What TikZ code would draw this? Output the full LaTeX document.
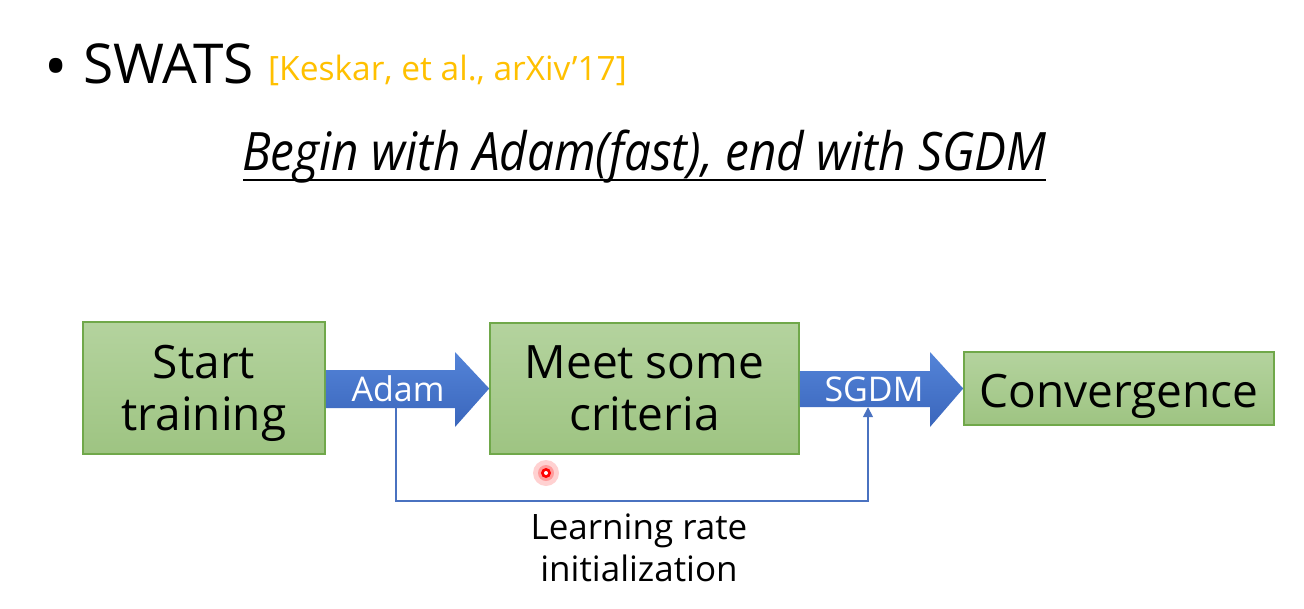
\documentclass[tikz,border=0pt]{standalone}
\usepackage{fontspec}
\setmainfont{Open Sans}
\usetikzlibrary{calc,arrows.meta}
\definecolor{boxtop}{RGB}{180,211,158}
\definecolor{boxbot}{RGB}{158,196,130}
\definecolor{boxline}{RGB}{112,168,74}
\definecolor{arrtop}{RGB}{84,132,216}
\definecolor{arrbot}{RGB}{58,102,188}
\definecolor{connblue}{RGB}{74,114,192}
\definecolor{citeorange}{RGB}{255,192,0}
\tikzset{
  greenbox/.style={draw=boxline, line width=1.6pt, top color=boxtop, bottom color=boxbot,
    inner sep=0pt},
  boxtext/.style={inner sep=0pt, align=center, anchor=base, font=\fontsize{46}{52}\selectfont},
  blockarrow/.style={top color=arrtop, bottom color=arrbot, draw=none},
  arrlabel/.style={text=white, inner sep=0pt, font=\fontsize{34}{40}\selectfont},
  conn/.style={draw=connblue, line width=1.5pt},
  plain/.style={inner sep=0pt, text=black},
}
\begin{document}
\begin{tikzpicture}[x=1pt,y=-1pt]
\useasboundingbox[fill=white] (0,0) rectangle (1304,608);
% heading
\node[plain, font=\fontsize{62}{64}\selectfont, anchor=center] (bullet) at (56,73) {\textbullet};
\node[plain, font=\fontsize{55}{60}\selectfont, anchor=base west] (swats) at (83,83) {SWATS};
\node[plain, text=citeorange, font=\fontsize{33.5}{40}\selectfont, anchor=base west] (cite) at (268,80) {[Keskar, et al., arXiv’17]};
% title
\node[plain, font=\fontsize{53}{60}\selectfont\itshape, anchor=base] (title) at (644.5,170) {\scalebox{0.90}[1]{Begin with Adam(fast), end with SGDM}};
\draw[line width=2.4pt] (243,180) -- (1046,180);
% boxes
\node[greenbox, minimum width=242pt, minimum height=132pt] (start) at (204,388) {};
\node[greenbox, minimum width=309pt, minimum height=131pt] (meet) at (644.5,388.5) {};
\node[greenbox, minimum width=310pt, minimum height=73pt] (conv) at (1119,388.5) {};
\node[boxtext] (starttxt) at (204,430) {Start\\training};
\node[boxtext] (meettxt) at (644.5,430) {Meet some\\criteria};
\node[boxtext] (convtxt) at (1119,407) {Convergence};
% block arrows
\shade[blockarrow] (start.east |- 0,370) -- (455,370) -- (455,352) -- (meet.west) -- (455,427) -- (455,408) -- (start.east |- 0,408) -- cycle;
\shade[blockarrow] (meet.east |- 0,371) -- (930,371) -- (930,352) -- (conv.west) -- (930,427) -- (930,407) -- (meet.east |- 0,407) -- cycle;
\node[arrlabel, minimum height=37pt] (adam) at (398,389) {Adam};
\node[arrlabel, minimum height=36pt] (sgdm) at (874,389) {SGDM};
% connector
\draw[conn, -{Triangle[length=10pt,width=10pt]}] (adam.south -| 396,0) -- (396,501) -- (868,501) -- (sgdm.south -| 868,0);
\node[plain, align=center, font=\fontsize{35}{42}\selectfont, anchor=base] (lr) at (639,581) {Learning rate\\initialization};
% laser pointer dot
\fill[red, opacity=0.18] (546,473) circle (13);
\fill[red, opacity=0.25] (546,473) circle (8);
\fill[red] (546,473) circle (5);
\fill[white] (546,473) circle (2);
\end{tikzpicture}
\end{document}
